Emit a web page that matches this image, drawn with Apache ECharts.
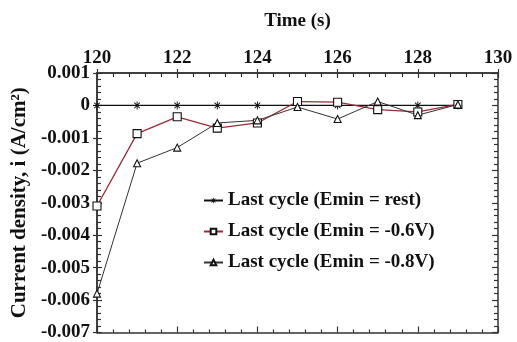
<!DOCTYPE html>
<html>
<head>
<meta charset="utf-8">
<script src="https://cdn.jsdelivr.net/npm/echarts@6/dist/echarts.min.js"></script>
<style>
  html, body { margin: 0; padding: 0; background: #fff; }
  #chart { width: 517px; height: 342px; }
</style>
</head>
<body>
<div id="chart"></div>
<script>
// time points (s)
const timeValues = [120, 121, 122, 123, 124, 125, 126, 127, 128, 129]
// current density (A/cm2)
const restValues = [0, 0, 0, 0, 0, 0, 0, 0, 0, 0]
const minus06Values = [-0.0031, -0.00087, -0.00035, -0.0007, -0.00054, 0.00012, 0.0001, -0.00013, -0.0002, 0.00003]
const minus08Values = [-0.0058, -0.00178, -0.0013, -0.00054, -0.00046, -0.00005, -0.00042, 0.00012, -0.0003, 0.00003]
const seriesNames = ['Last cycle (Emin = rest)', 'Last cycle (Emin = -0.6V)', 'Last cycle (Emin = -0.8V)']

const FONT = "'Liberation Serif', 'Times New Roman', serif"
const AXIS_COLOR = '#333'
const TEXT = { fontFamily: FONT, fontWeight: 'bold', fontSize: 19, color: '#111' }

// asterisk marker built from filled bars
const ASTERISK = 'path://M4.4,0 H5.6 V10 H4.4 Z M0,4.4 H10 V5.6 H0 Z ' +
  'M1.08,1.92 L1.92,1.08 L8.92,8.08 L8.08,8.92 Z M8.08,1.08 L8.92,1.92 L1.92,8.92 L1.08,8.08 Z'

const toPairs = (ys) => timeValues.map((t, i) => [t, ys[i]])

const chart = echarts.init(document.getElementById('chart'))

const tickStyle = { color: AXIS_COLOR, width: 1.2 }
const baseX = {
  type: 'value',
  min: 120,
  max: 130,
  interval: 2,
  splitLine: { show: false },
  axisLine: { onZero: false, lineStyle: { color: AXIS_COLOR, width: 1.5 } }
}
const baseY = {
  type: 'value',
  min: -0.007,
  max: 0.001,
  interval: 0.001,
  splitLine: { show: false },
  axisLine: { onZero: false, lineStyle: { color: AXIS_COLOR, width: 1.5 } }
}

const option = {
  backgroundColor: '#fff',
  animation: false,
  grid: { left: 97, right: 19, top: 73, bottom: 5 },
  legend: {
    orient: 'vertical',
    left: 203,
    top: 191,
    padding: 0,
    itemGap: 12,
    itemWidth: 19,
    itemHeight: 7,
    data: seriesNames,
    textStyle: TEXT
  },
  xAxis: [
    {
      ...baseX,
      position: 'top',
      name: 'Time (s)',
      nameLocation: 'middle',
      nameGap: 42,
      nameTextStyle: TEXT,
      axisTick: { inside: true, length: 5, lineStyle: tickStyle },
      minorTick: { show: true, splitNumber: 5, length: 4, lineStyle: tickStyle },
      axisLabel: { ...TEXT, margin: 5 }
    },
    {
      ...baseX,
      position: 'top',
      axisTick: { inside: false, length: 4, lineStyle: tickStyle },
      axisLabel: { show: false }
    },
    {
      ...baseX,
      position: 'bottom',
      axisTick: { inside: true, length: 6, lineStyle: tickStyle },
      minorTick: { show: true, splitNumber: 5, length: 3, lineStyle: tickStyle },
      axisLabel: { show: false }
    }
  ],
  yAxis: [
    {
      ...baseY,
      position: 'left',
      name: 'Current density, i (A/cm²)',
      nameLocation: 'middle',
      nameGap: 64,
      nameTextStyle: { ...TEXT, fontSize: 21 },
      axisTick: { inside: true, length: 5, lineStyle: tickStyle },
      minorTick: { show: true, splitNumber: 5, length: 4, lineStyle: tickStyle },
      axisLabel: {
        ...TEXT,
        margin: 7,
        formatter: (v) => Math.abs(v) < 1e-9 ? '0' : v.toFixed(3)
      }
    },
    {
      ...baseY,
      position: 'left',
      axisTick: { inside: false, length: 4, lineStyle: tickStyle },
      axisLabel: { show: false }
    },
    {
      ...baseY,
      position: 'right',
      axisTick: { inside: true, length: 6, lineStyle: tickStyle },
      minorTick: { show: true, splitNumber: 5, length: 4, lineStyle: tickStyle },
      axisLabel: { show: false }
    }
  ],
  series: [
    {
      name: seriesNames[0],
      type: 'line',
      data: toPairs(restValues),
      symbol: ASTERISK,
      symbolSize: 8,
      lineStyle: { color: '#111', width: 1.3 },
      itemStyle: { color: '#111' }
    },
    {
      name: seriesNames[1],
      type: 'line',
      data: toPairs(minus06Values),
      symbol: 'rect',
      symbolSize: 8,
      lineStyle: { color: '#9c2b38', width: 1.3 },
      itemStyle: { color: '#fff', borderColor: '#111', borderWidth: 1.1 }
    },
    {
      name: seriesNames[2],
      type: 'line',
      data: toPairs(minus08Values),
      symbol: 'triangle',
      symbolSize: 7,
      lineStyle: { color: '#333', width: 1 },
      itemStyle: { color: '#fff', borderColor: '#111', borderWidth: 1.1 }
    }
  ]
}

chart.setOption(option)
</script>
</body>
</html>
